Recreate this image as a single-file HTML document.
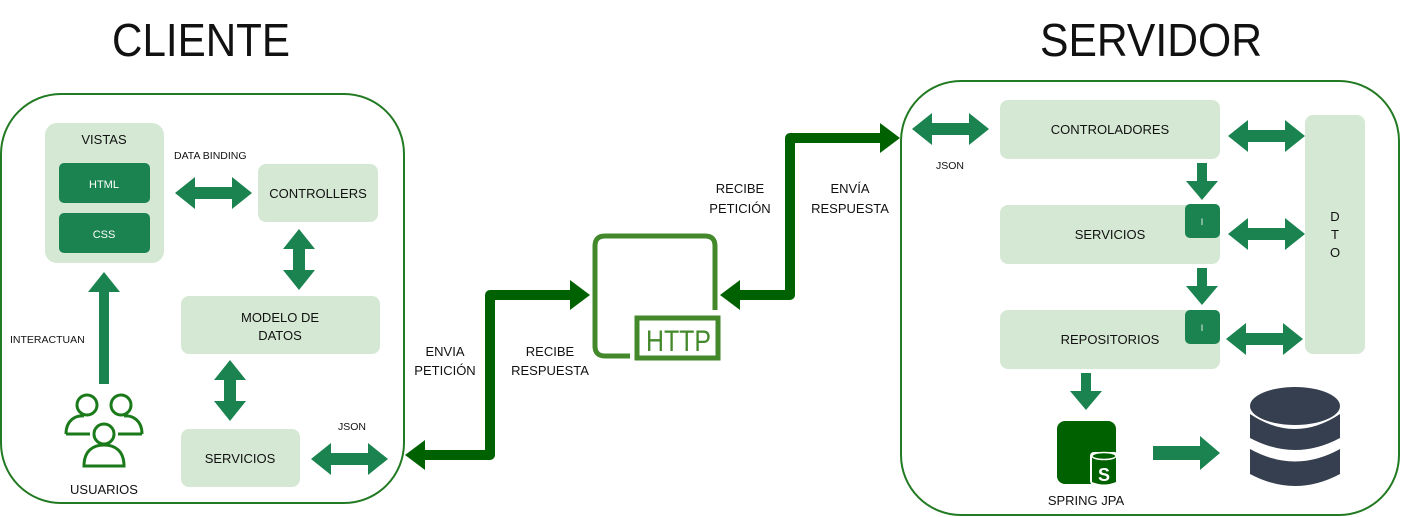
<!DOCTYPE html>
<html><head><meta charset="utf-8"><style>
html,body{margin:0;padding:0;background:#fff;}
svg{display:block;}
text{font-family:"Liberation Sans",sans-serif;fill:#111;}
</style></head><body>
<svg width="1402" height="517" viewBox="0 0 1402 517" xmlns="http://www.w3.org/2000/svg">
<defs>
<g id="dh"><polygon points="0,0 20,-16 20,-6 57,-6 57,-16 77,0 57,16 57,6 20,6 20,16" fill="#1a8350"/></g>
<g id="dv"><polygon points="0,0 -16,20 -6,20 -6,41 -16,41 0,61 16,41 6,41 6,20 16,20" fill="#1a8350"/></g>
<g id="dn"><polygon points="-5,0 5,0 5,18 16,18 0,37 -16,18 -5,18" fill="#1a8350"/></g>
</defs>
<!-- titles -->
<text x="112" y="56" font-size="46" textLength="178" lengthAdjust="spacingAndGlyphs">CLIENTE</text>
<text x="1040" y="56" font-size="46" textLength="222" lengthAdjust="spacingAndGlyphs">SERVIDOR</text>

<!-- client container -->
<rect x="1" y="94" width="403" height="409" rx="60" fill="none" stroke="#227a22" stroke-width="2"/>
<rect x="45" y="123" width="119" height="140" rx="12" fill="#d5e8d4"/>
<text x="104" y="144" font-size="13" text-anchor="middle">VISTAS</text>
<rect x="59" y="163" width="91" height="40" rx="5" fill="#1a8350"/>
<text x="104" y="188" font-size="11" text-anchor="middle" style="fill:#fff">HTML</text>
<rect x="59" y="213" width="91" height="40" rx="5" fill="#1a8350"/>
<text x="104" y="238" font-size="11" text-anchor="middle" style="fill:#fff">CSS</text>
<text x="174" y="159" font-size="10.5">DATA BINDING</text>
<use href="#dh" x="175" y="193"/>
<rect x="258" y="164" width="120" height="58" rx="8" fill="#d5e8d4"/>
<text x="318" y="198" font-size="13" text-anchor="middle">CONTROLLERS</text>
<use href="#dv" x="299" y="229"/>
<rect x="181" y="296" width="199" height="58" rx="8" fill="#d5e8d4"/>
<text x="280" y="322" font-size="13" text-anchor="middle">MODELO DE</text>
<text x="280" y="340" font-size="13" text-anchor="middle">DATOS</text>
<use href="#dv" x="230" y="360"/>
<rect x="181" y="429" width="119" height="58" rx="8" fill="#d5e8d4"/>
<text x="240" y="463" font-size="13" text-anchor="middle">SERVICIOS</text>
<text x="352" y="430" font-size="10.5" text-anchor="middle">JSON</text>
<use href="#dh" x="311" y="459"/>
<polygon points="104,272 120,292 109,292 109,384 99,384 99,292 88,292" fill="#1a8350"/>
<text x="10" y="343" font-size="10.5">INTERACTUAN</text>
<!-- users -->
<g fill="none" stroke="#1a7a1a" stroke-width="3">
<circle cx="87" cy="405" r="10"/><circle cx="121" cy="405" r="10"/><circle cx="104" cy="434" r="10"/>
<path d="M66,434 C66,420 76,415 84,416"/><path d="M66,434 L90,434"/>
<path d="M142,434 C142,420 132,415 124,416"/><path d="M142,434 L118,434"/>
<path d="M84,466 C84,450 94,445 104,445 C114,445 124,450 124,466 Z"/>
</g>
<text x="104" y="494" font-size="13" text-anchor="middle">USUARIOS</text>

<!-- middle connectors -->
<g fill="none" stroke="#006100" stroke-width="10" stroke-linejoin="round">
<path d="M420,455 L490,455 L490,295 L572,295"/>
<path d="M738,295 L790,295 L790,138 L882,138"/>
</g>
<polygon points="405,455 425,440 425,470" fill="#006100"/>
<polygon points="590,295 570,280 570,310" fill="#006100"/>
<polygon points="720,295 740,280 740,310" fill="#006100"/>
<polygon points="900,138 880,123 880,153" fill="#006100"/>
<!-- HTTP icon -->
<path d="M630,356 L605,356 Q595,356 595,346 L595,246 Q595,236 605,236 L705,236 Q715,236 715,246 L715,310" fill="none" stroke="#43882a" stroke-width="5"/>
<rect x="637" y="318" width="81" height="40" fill="none" stroke="#43882a" stroke-width="5"/>
<text x="646" y="351" font-size="30" textLength="65" lengthAdjust="spacingAndGlyphs" style="fill:#43882a">HTTP</text>
<g font-size="13" text-anchor="middle">
<text x="445" y="356">ENVIA</text><text x="445" y="375">PETICIÓN</text>
<text x="550" y="356">RECIBE</text><text x="550" y="375">RESPUESTA</text>
<text x="740" y="193">RECIBE</text><text x="740" y="213">PETICIÓN</text>
<text x="850" y="193">ENVÍA</text><text x="850" y="213">RESPUESTA</text>
</g>

<!-- server -->
<rect x="901" y="81" width="498" height="434" rx="60" fill="none" stroke="#227a22" stroke-width="2"/>
<use href="#dh" x="912" y="129"/>
<text x="950" y="169" font-size="10.5" text-anchor="middle">JSON</text>
<rect x="1000" y="100" width="220" height="59" rx="8" fill="#d5e8d4"/>
<text x="1110" y="134" font-size="13" text-anchor="middle">CONTROLADORES</text>
<rect x="1305" y="115" width="60" height="239" rx="8" fill="#d5e8d4"/>
<g font-size="13" text-anchor="middle"><text x="1335" y="221">D</text><text x="1335" y="239">T</text><text x="1335" y="257">O</text></g>
<use href="#dh" x="1228" y="136"/>
<use href="#dn" x="1202" y="163"/>
<rect x="1000" y="205" width="220" height="59" rx="8" fill="#d5e8d4"/>
<text x="1110" y="239" font-size="13" text-anchor="middle">SERVICIOS</text>
<rect x="1185" y="204" width="35" height="34" rx="5" fill="#1a8350"/>
<text x="1202" y="225" font-size="9" text-anchor="middle" style="fill:#fff">I</text>
<use href="#dh" x="1228" y="234"/>
<use href="#dn" x="1202" y="268"/>
<rect x="1000" y="310" width="220" height="59" rx="8" fill="#d5e8d4"/>
<text x="1110" y="344" font-size="13" text-anchor="middle">REPOSITORIOS</text>
<rect x="1185" y="310" width="35" height="34" rx="5" fill="#1a8350"/>
<text x="1202" y="331" font-size="9" text-anchor="middle" style="fill:#fff">I</text>
<use href="#dh" x="1226" y="339"/>
<use href="#dn" x="1086" y="373"/>
<!-- spring icon -->
<rect x="1057" y="421" width="59" height="63" rx="8" fill="#006100"/>
<rect x="1090" y="452" width="28" height="33" rx="4" fill="#fff"/>
<path d="M1092,456 Q1104,450 1116,456 L1116,482 Q1104,487 1092,482 Z" fill="#006100"/>
<ellipse cx="1104" cy="456" rx="12" ry="3.5" fill="#006100" stroke="#fff" stroke-width="1.5"/>
<text x="1104" y="481" font-size="18" font-weight="bold" text-anchor="middle" style="fill:#fff">S</text>
<text x="1086" y="505" font-size="13" text-anchor="middle">SPRING JPA</text>
<polygon points="1153,446 1200,446 1200,436 1220,453 1200,470 1200,460 1153,460" fill="#1a8350"/>
<!-- DB -->
<g fill="#363f4f">
<ellipse cx="1295" cy="406" rx="45" ry="19"/>
<path d="M1250,414 Q1295,444 1340,414 L1340,438 Q1295,462 1250,438 Z"/>
<path d="M1250,449 Q1295,474 1340,449 L1340,474 Q1295,498 1250,474 Z"/>
</g>
</svg>
</body></html>
